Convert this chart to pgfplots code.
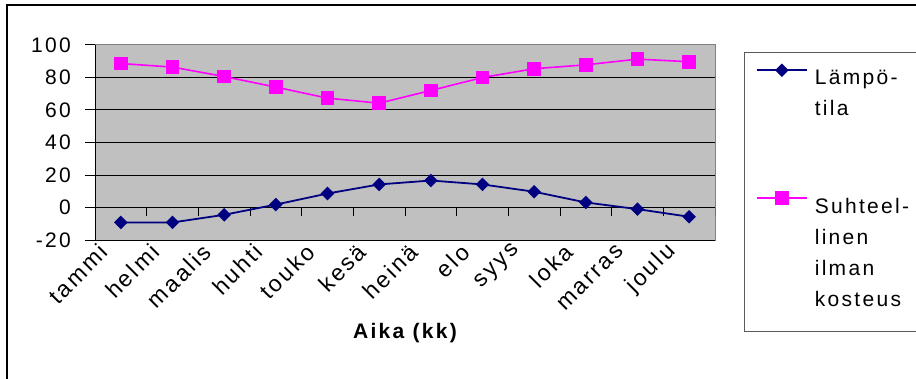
\documentclass[border=0pt]{standalone}
\usepackage{fontspec}
\setmainfont{Liberation Sans}[LetterSpace=11]
\usepackage{pgfplots}
\pgfplotsset{compat=1.18}

\definecolor{navyline}{HTML}{000080}
\definecolor{magline}{HTML}{FF00FF}
\definecolor{plotgray}{HTML}{C0C0C0}
\definecolor{rimgray}{HTML}{808080}

\newcommand\chartfont{\fontsize{21}{31}\selectfont}
\newcommand\monthfont{\fontsize{23}{28}\selectfont}
% stacked legend text whose baseline is that of its first line
\newcommand\stackedlines[1]{\vtop{\chartfont\baselineskip=31pt #1}}

\begin{document}
\begin{tikzpicture}[x=1pt,y=1pt]
\useasboundingbox (0,0) rectangle (916,378);
\coordinate (plotorigin) at (95,138);
\begin{scope}
  \clip (0,0) rectangle (916,378);
  % chart frame and legend box
  \draw[line width=2pt] (7,-10) -- (7,373) -- (930,373);
  \draw[black!65, line width=1pt] (744.5,46.3) rectangle (930,325.3);
\end{scope}
\begin{axis}[
  at={(plotorigin)}, anchor=south west,
  width=620pt, height=195pt, scale only axis,
  xmin=-0.5, xmax=11.5, ymin=-20, ymax=100,
  axis background/.style={fill=plotgray},
  axis line style={draw=rimgray, line width=1pt},
  ytick={-20,0,...,100},
  ytick pos=left, ytick align=outside,
  major tick length=10pt,
  ytick style={black, line width=1pt},
  ymajorgrids, grid style={black, line width=1pt},
  xtick={0,...,11},
  xtick style={draw=none},
  xticklabels={tammi,helmi,maalis,huhti,touko,kesä,heinä,elo,syys,loka,marras,joulu},
  xticklabel style={font=\monthfont, inner sep=0pt, xshift=-17pt, yshift=-8pt, rotate=45, anchor=east},
  yticklabel style={font=\chartfont, inner sep=0pt, anchor=east, xshift=-14pt},
  /pgf/number format/assume math mode=true,
  xlabel={\bfseries Aika (kk)},
  xlabel style={font=\chartfont, at={(axis description cs:0.5,0)}, anchor=base, yshift=-98pt},
  legend style={at={(1.06613,0.89897)}, anchor=north west, draw=none, fill=none,
    inner sep=0pt, outer sep=0pt, column sep=7pt, row sep=105.7pt,
    nodes={inner sep=0pt, font=\chartfont}},
  legend cell align=left,
  legend image code/.code={%
    \draw[mark repeat=2, mark phase=2, yshift=8.3pt]
      plot coordinates {(0pt,0pt) (25pt,0pt) (50pt,0pt)};},
]
% left axis and bottom rim in black over the grey plot rim
\draw[black, line width=1pt] (rel axis cs:0,0) -- (rel axis cs:0,1);
\draw[black, line width=1pt] (rel axis cs:0,0) -- (rel axis cs:1,0);
% category separators hanging from the zero line
\draw[black, line width=1pt]
  (axis cs:0.5,0) -- ++(0pt,-8pt)  (axis cs:1.5,0) -- ++(0pt,-8pt)
  (axis cs:2.5,0) -- ++(0pt,-8pt)  (axis cs:3.5,0) -- ++(0pt,-8pt)
  (axis cs:4.5,0) -- ++(0pt,-8pt)  (axis cs:5.5,0) -- ++(0pt,-8pt)
  (axis cs:6.5,0) -- ++(0pt,-8pt)  (axis cs:7.5,0) -- ++(0pt,-8pt)
  (axis cs:8.5,0) -- ++(0pt,-8pt)  (axis cs:9.5,0) -- ++(0pt,-8pt)
  (axis cs:10.5,0) -- ++(0pt,-8pt) (axis cs:11.5,0) -- ++(0pt,-8pt);

\addplot[navyline, line width=1.8pt, mark=square*, mark size=3.9pt,
  mark options={rotate=45, fill=navyline}]
  coordinates {(0,-9.2) (1,-9.2) (2,-4.5) (3,1.8) (4,8.6) (5,14.2)
               (6,16.6) (7,14.2) (8,9.7) (9,3.1) (10,-1.0) (11,-5.7)};
\addlegendentry{\stackedlines{\hbox{Lämpö-}\hbox{tila}}}

\addplot[magline, line width=1.6pt, mark=square*, mark size=6pt,
  mark options={fill=magline}]
  coordinates {(0,88.6) (1,86.4) (2,80.6) (3,74.1) (4,67.3) (5,64.2)
               (6,72.0) (7,80.0) (8,85.4) (9,87.8) (10,91.3) (11,89.7)};
\addlegendentry{\stackedlines{\hbox{Suhteel-}\hbox{linen}\hbox{ilman}\hbox{kosteus}}}
\end{axis}
\end{tikzpicture}
\end{document}
